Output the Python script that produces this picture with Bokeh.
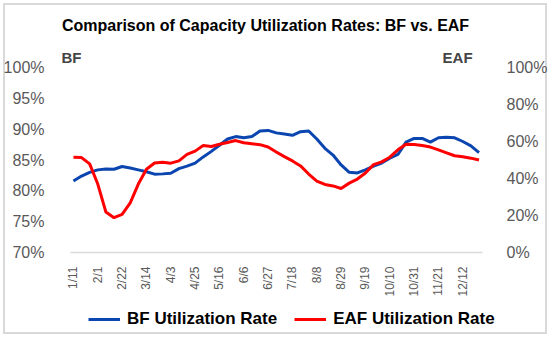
import math
from bokeh.plotting import figure
from bokeh.layouts import column
from bokeh.models import (Range1d, LinearAxis, FixedTicker, PrintfTickFormatter,
                          Label, Legend, LegendItem, ColumnDataSource)
from bokeh.embed import file_html
from bokeh.resources import INLINE

# ---- data ----
tick_labels = ["1/11", "2/1", "2/22", "3/14", "4/3", "4/25", "5/16", "6/6", "6/27",
               "7/18", "8/8", "8/29", "9/19", "10/10", "10/31", "11/21", "12/12"]
bf_rate = [81.6, 82.4, 83.0, 83.4, 83.55, 83.5, 83.95, 83.7, 83.4, 83.1,
           82.7, 82.75, 82.85, 83.6, 84.0, 84.5, 85.5, 86.4, 87.4, 88.4,
           88.8, 88.6, 88.8, 89.7, 89.8, 89.4, 89.2, 89.0, 89.6, 89.7,
           88.4, 86.9, 85.8, 84.2, 83.0, 82.9, 83.4, 84.0, 84.5, 85.3,
           85.9, 87.9, 88.5, 88.5, 87.9, 88.6, 88.7, 88.6, 88.0, 87.3, 86.2]
eaf_rate = [51.5, 51.3, 47.9, 37.0, 21.9, 18.8, 20.6, 26.8, 37.0, 45.0,
            48.4, 48.8, 48.3, 49.5, 53.0, 54.8, 57.8, 57.3, 58.5, 59.5,
            60.5, 59.3, 58.8, 58.3, 57.0, 54.3, 51.8, 49.5, 46.8, 42.4,
            38.6, 36.8, 36.0, 34.6, 37.5, 39.7, 43.0, 47.5, 49.0, 51.5,
            55.5, 58.5, 58.4, 57.8, 57.0, 55.5, 53.9, 52.3, 51.8, 51.0, 50.0]

week = list(range(len(bf_rate)))
tick_pos = list(range(0, 3 * len(tick_labels), 3))

BLUE = "#0B45B0"
RED = "#FF0000"
GRAY = "#595959"
FONT = "Liberation Sans"

src = ColumnDataSource(dict(week=week, bf=bf_rate, eaf=eaf_rate))

# pixel geometry: 100% at y=67, 70% at y=252, frame top at y=8
PX_PER_PCT = 185 / 30
FRAME_TOP = 8
FRAME_L, FRAME_R = 57, 495
PX_PER_WEEK = 8.149
x0 = -(71 - FRAME_L) / PX_PER_WEEK
x1 = x0 + (FRAME_R - FRAME_L) / PX_PER_WEEK
left_top = 70 + (252 - FRAME_TOP) / PX_PER_PCT
right_top = (252 - FRAME_TOP) / 1.85

def ydata(py):
    return 70 + (252 - py) / PX_PER_PCT

def xdata(px):
    return x0 + (px - FRAME_L) / PX_PER_WEEK

p = figure(width=550, height=300, output_backend="svg", toolbar_location=None,
           x_range=Range1d(x0, x1), y_range=Range1d(70, left_top),
           min_border_left=FRAME_L, min_border_right=550 - FRAME_R, min_border_top=FRAME_TOP,
           min_border_bottom=48, y_axis_location=None)
p.outline_line_color = None
p.xgrid.visible = False
p.ygrid.visible = False
p.background_fill_color = None
p.border_fill_color = None

p.extra_y_ranges = {"eaf": Range1d(0, right_top)}

yl = LinearAxis(ticker=FixedTicker(ticks=[70, 75, 80, 85, 90, 95, 100]),
                formatter=PrintfTickFormatter(format="%d%%"))
yr = LinearAxis(y_range_name="eaf", ticker=FixedTicker(ticks=[0, 20, 40, 60, 80, 100]),
                formatter=PrintfTickFormatter(format="%d%%"))
for ax, st in ((yl, 9), (yr, 5)):
    ax.axis_line_color = None
    ax.major_tick_line_color = None
    ax.minor_tick_line_color = None
    ax.major_label_text_font = FONT
    ax.major_label_text_font_size = "16px"
    ax.major_label_text_color = GRAY
    ax.major_label_standoff = st
p.add_layout(yl, "left")
p.add_layout(yr, "right")

xa = p.xaxis[0]
xa.ticker = FixedTicker(ticks=tick_pos)
xa.major_label_overrides = {t: l for t, l in zip(tick_pos, tick_labels)}
xa.major_label_orientation = math.pi / 2
xa.major_label_text_font = FONT
xa.major_label_text_font_size = "12px"
xa.major_label_text_color = GRAY
xa.major_label_standoff = 8
xa.axis_line_color = "#d9d9d9"
xa.axis_line_width = 1.5
xa.major_tick_line_color = None
xa.minor_tick_line_color = None
xa.bounds = (xdata(68), xdata(482))

r_bf = p.line("week", "bf", source=src, line_color=BLUE, line_width=3)
r_eaf = p.line("week", "eaf", source=src, line_color=RED, line_width=3, y_range_name="eaf")

p.add_layout(Label(x=xdata(264), y=ydata(25), text="Comparison of Capacity Utilization Rates: BF vs. EAF",
                   text_font=FONT, text_font_style="bold", text_font_size="16px",
                   text_align="center", text_baseline="middle", text_color="black"))
p.add_layout(Label(x=xdata(59), y=ydata(57), text="BF", text_font=FONT, text_font_style="bold",
                   text_font_size="15px", text_align="left", text_baseline="middle"))
p.add_layout(Label(x=xdata(472), y=ydata(57), text="EAF", text_font=FONT, text_font_style="bold",
                   text_font_size="15px", text_align="right", text_baseline="middle"))

# legend strip below the chart (its frame aligns with the chart frame)
lg = figure(width=550, height=37, output_backend="svg", toolbar_location=None,
            x_range=Range1d(0, 1), y_range=Range1d(0, 1),
            min_border_left=FRAME_L, min_border_right=550 - FRAME_R,
            min_border_top=0, min_border_bottom=0,
            x_axis_location=None, y_axis_location=None)
lg.outline_line_color = None
lg.xgrid.visible = False
lg.ygrid.visible = False
lg.background_fill_color = None
lg.border_fill_color = None
l_bf = lg.line("week", "bf", source=src, line_color=BLUE, line_width=3, visible=False)
l_eaf = lg.line("week", "eaf", source=src, line_color=RED, line_width=3, visible=False)
legend = Legend(items=[LegendItem(label="BF Utilization Rate", renderers=[l_bf]),
                       LegendItem(label="EAF Utilization Rate", renderers=[l_eaf])],
                orientation="horizontal", location=(86 - FRAME_L, 8),
                label_text_font=FONT, label_text_font_style="bold", label_text_font_size="17px",
                label_text_color="black", glyph_width=32, label_standoff=7, spacing=17,
                padding=0, margin=0, border_line_color=None, background_fill_alpha=0)
lg.add_layout(legend, "center")

layout = column(p, lg, spacing=0)
layout.styles = {"box-shadow": "inset 0 0 0 3px white, inset 0 0 0 5px #d9d9d9",
                 "background-color": "white"}

open("out.html", "w").write(file_html(layout, INLINE))
